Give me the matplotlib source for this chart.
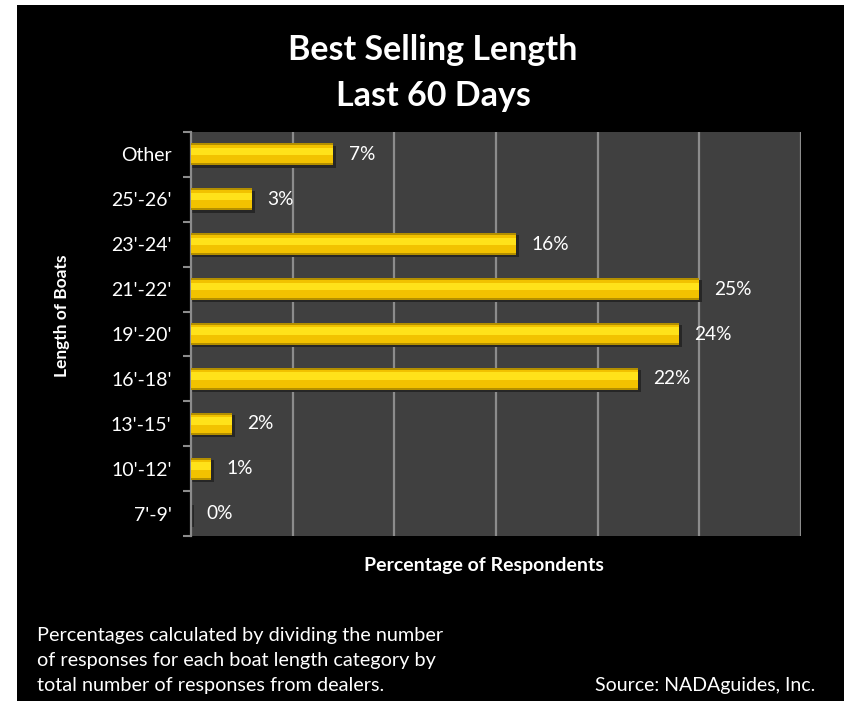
import numpy as np
import matplotlib.pyplot as plt
from matplotlib.patches import Rectangle

plt.rcParams['font.family'] = ['Lato', 'DejaVu Sans']

# data, top to bottom as shown
lengths = ["Other", "25'-26'", "23'-24'", "21'-22'", "19'-20'", "16'-18'", "13'-15'", "10'-12'", "7'-9'"]
pct = [7, 3, 16, 25, 24, 22, 2, 1, 0]

W, H = 844, 701
fig = plt.figure(figsize=(W / 100, H / 100), dpi=100)
fig.patch.set_facecolor('white')

# black panel behind everything
fig.add_artist(Rectangle((17 / W, 0), 1, 1 - 5 / H, transform=fig.transFigure,
                         facecolor='black', edgecolor='none', zorder=-10))

ax = fig.add_axes([191 / W, (H - 536) / H, 610 / W, 404 / H])
ax.set_facecolor('#404040')

y = np.arange(len(lengths))
vals = np.array(pct, dtype=float)

# bevelled gold bars: shadow, dark rim, body, highlight
h = 0.49
ax.barh(y + 0.05, vals + 0.15, height=h, left=0, color='#262626', zorder=2)
ax.barh(y, vals, height=h, color='#B38F00', zorder=3)
ax.barh(y, vals, height=h * 0.82, color='#F2C200', zorder=4)
ax.barh(y - h * 0.13, vals, height=h * 0.34, color='#FFE21A', zorder=5)

for yi, v in zip(y, vals):
    ax.text(v + 0.75, yi, f'{int(v)}%', va='center', ha='left',
            color='white', fontsize=13.8)

ax.set_xlim(0, 30)
ax.set_ylim(len(lengths) - 0.5, -0.5)
ax.set_xticks(np.arange(5, 31, 5))
ax.xaxis.grid(True, color='#8c8c8c', linewidth=1.6, zorder=1)
ax.set_axisbelow(True)
ax.tick_params(axis='x', length=0, labelbottom=False)

ax.set_yticks(y)
ax.set_yticklabels(lengths, color='white', fontsize=14)
ax.set_yticks(np.arange(-0.5, len(lengths)), minor=True)
ax.tick_params(axis='y', which='major', length=0, pad=14)
ax.tick_params(axis='y', which='minor', length=6, color='#8c8c8c', width=1.5)

for s in ['top', 'right', 'bottom']:
    ax.spines[s].set_visible(False)
ax.spines['left'].set_color('#8c8c8c')
ax.spines['left'].set_linewidth(1.6)

fig.text(433 / W, 1 - 50 / H, 'Best Selling Length', color='white',
         fontsize=24.5, fontweight='bold', ha='center', va='center')
fig.text(433 / W, 1 - 96 / H, 'Last 60 Days', color='white',
         fontsize=24.5, fontweight='bold', ha='center', va='center')

fig.text(484 / W, 1 - 565 / H, 'Percentage of Respondents', color='white',
         fontsize=14, fontweight='bold', ha='center', va='center')
fig.text(62 / W, 1 - 316 / H, 'Length of Boats', color='white',
         fontsize=12.5, fontweight='bold', ha='center', va='center', rotation=90)

notes = ['Percentages calculated by dividing the number',
         'of responses for each boat length category by',
         'total number of responses from dealers.']
for i, line in enumerate(notes):
    fig.text(37 / W, 1 - (636 + 24.5 * i) / H, line, color='white',
             fontsize=14.3, ha='left', va='center')
fig.text(815 / W, 1 - 685 / H, 'Source: NADAguides, Inc.', color='white',
         fontsize=14, ha='right', va='center')

fig.savefig('out.png', dpi=100, facecolor=fig.get_facecolor())
